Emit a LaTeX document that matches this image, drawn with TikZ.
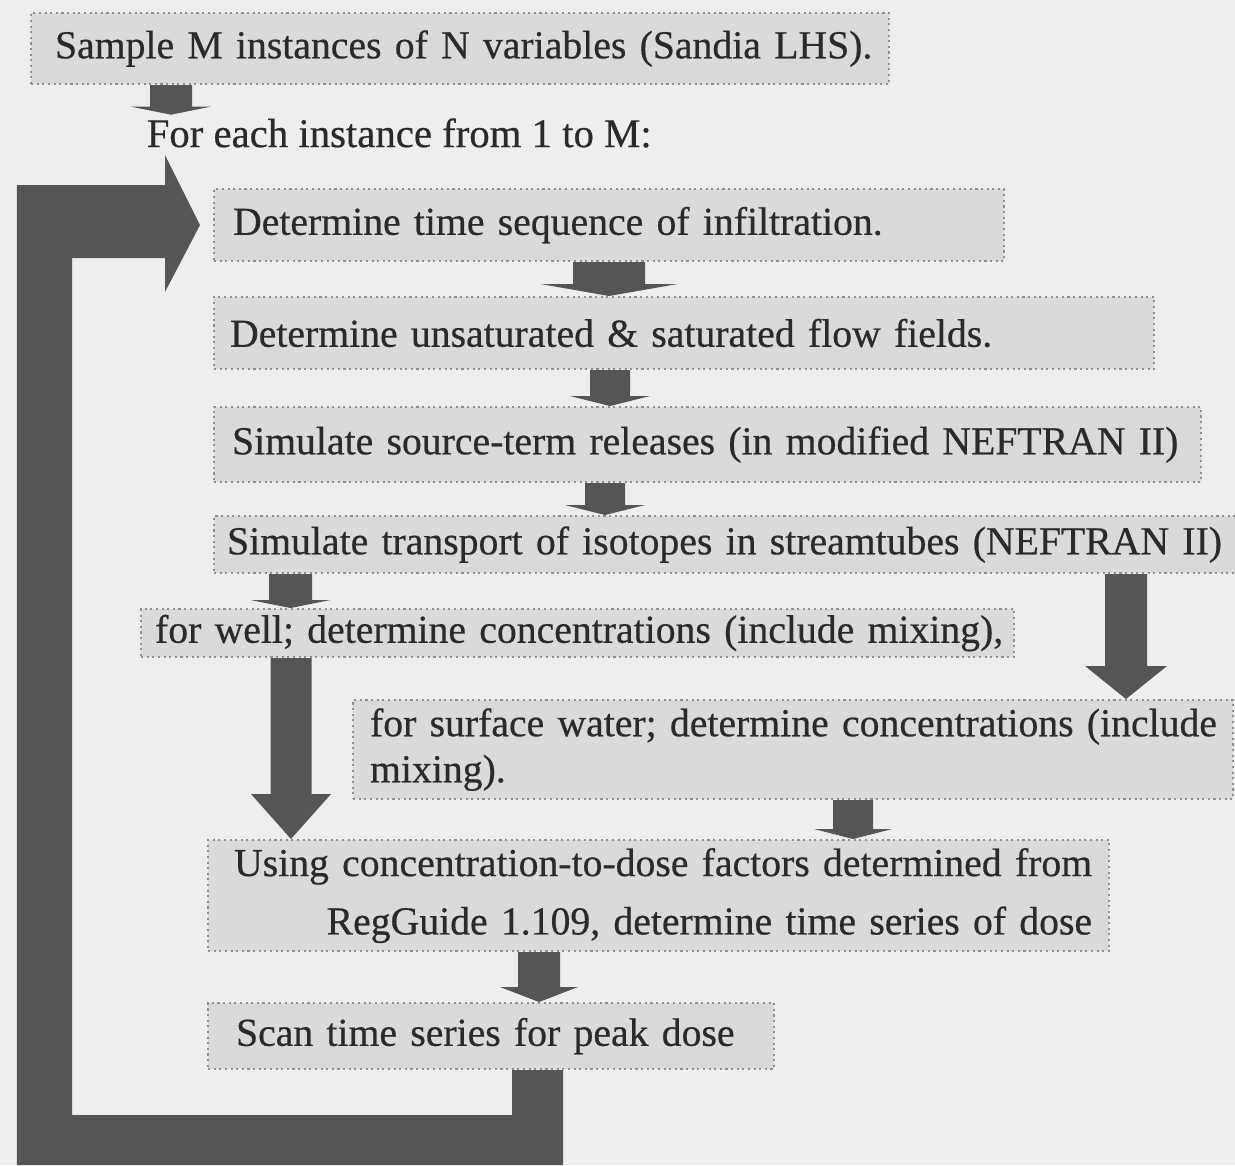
\documentclass[tikz,border=0pt]{standalone}
\usepackage{fontspec}
\setmainfont{Liberation Serif}[FakeBold=0.5]
\usetikzlibrary{calc}

\definecolor{paper}{HTML}{EEEEEC}
\definecolor{boxfill}{HTML}{DADAD8}
\definecolor{boxline}{HTML}{8E8E8E}
\definecolor{arrowgray}{HTML}{555555}
\definecolor{inkgray}{HTML}{2A2A2A}

\tikzset{
  stage/.style={draw=boxline, densely dotted, line width=0.6pt, fill=boxfill,
    anchor=north west, inner xsep=0.16cm, inner ysep=0pt, align=left,
    text=inkgray, font=\fontsize{11.3}{13.1}\selectfont},
}

% block arrow: from, to, x, shaft half width, head half width, head length
\newcommand{\flowarrow}[6]{%
  \fill[arrowgray] (#3-#4,0 |- #1.south) -- (#3+#4,0 |- #1.south)
    -- ($(#3+#4,0 |- #2.north)+(0,#6)$) -- ($(#3+#5,0 |- #2.north)+(0,#6)$)
    -- (#3,0 |- #2.north) -- ($(#3-#5,0 |- #2.north)+(0,#6)$)
    -- ($(#3-#4,0 |- #2.north)+(0,#6)$) -- cycle;}

\begin{document}
\begin{tikzpicture}
    \fill[paper] (0,0) rectangle (12.35,-11.65);
    \useasboundingbox (0,0) rectangle (12.35,-11.65);

    \node[stage, inner xsep=0.24cm, text width=8.10cm, minimum height=0.71cm] (sample) at (0.30,-0.12)
        {\mbox{Sample M instances of N variables (Sandia LHS).}};
    \node[anchor=west, inner sep=0.03cm, text=inkgray, font=\fontsize{11.6}{13.2}\selectfont] (foreach) at (1.43,-1.33)
        {For each instance from 1 to M:};
    \node[stage, inner xsep=0.19cm, text width=7.52cm, minimum height=0.72cm] (det) at (2.13,-1.88)
        {\mbox{Determine time sequence of infiltration.}};
    \node[stage, text width=9.08cm, minimum height=0.72cm] (flow) at (2.13,-2.96)
        {\mbox{Determine unsaturated \& saturated flow fields.}};
    \node[stage, inner xsep=0.18cm, text width=9.51cm, minimum height=0.75cm] (src) at (2.13,-4.06)
        {\mbox{Simulate source-term releases (in modified NEFTRAN II)}};
    \node[stage, inner xsep=0.13cm, text width=9.96cm, minimum height=0.57cm] (trans) at (2.13,-5.15)
        {\mbox{Simulate transport of isotopes in streamtubes (NEFTRAN II)}};
    \node[stage, inner xsep=0.14cm, text width=8.45cm, minimum height=0.48cm] (well) at (1.40,-6.08)
        {\mbox{for well; determine concentrations (include mixing),}};
    \node[stage, inner xsep=0.17cm, text width=8.46cm, minimum height=0.99cm] (surf) at (3.52,-6.99)
        {\mbox{for surface water; determine concentrations (include}\\ mixing).};
    \node[stage, align=right, inner xsep=0.17cm, text width=8.67cm, minimum height=1.11cm] (dose) at (2.07,-8.39)
        {\mbox{Using concentration-to-dose factors determined from}\\[3.5pt] \mbox{RegGuide 1.109, determine time series of dose}};
    \node[stage, inner xsep=0.28cm, text width=5.10cm, minimum height=0.66cm] (scan) at (2.07,-10.02)
        {\mbox{Scan time series for peak dose}};

    \flowarrow{sample}{foreach}{1.71}{0.21}{0.40}{0.08}
    \flowarrow{det}{flow}{6.09}{0.36}{0.685}{0.12}
    \flowarrow{flow}{src}{6.10}{0.20}{0.40}{0.10}
    \flowarrow{src}{trans}{6.05}{0.20}{0.40}{0.10}
    \flowarrow{trans}{well}{2.905}{0.215}{0.40}{0.08}
    \flowarrow{trans}{surf}{11.26}{0.21}{0.41}{0.33}
    \flowarrow{well}{dose}{2.91}{0.205}{0.40}{0.45}
    \flowarrow{surf}{dose}{8.53}{0.20}{0.39}{0.10}
    \flowarrow{dose}{scan}{5.39}{0.21}{0.39}{0.15}

    \fill[arrowgray] (5.12,0 |- scan.south) -- (5.12,-11.15) -- (0.72,-11.15) -- (0.72,-2.58)
        -- (1.65,-2.58) -- (1.65,-2.92) -- ($(det.west)+(-0.13,0)$) -- (1.65,-1.55)
        -- (1.65,-1.85) -- (0.17,-1.85) -- (0.17,-11.65) -- (5.63,-11.65)
        -- (5.63,0 |- scan.south) -- cycle;
\end{tikzpicture}
\end{document}
